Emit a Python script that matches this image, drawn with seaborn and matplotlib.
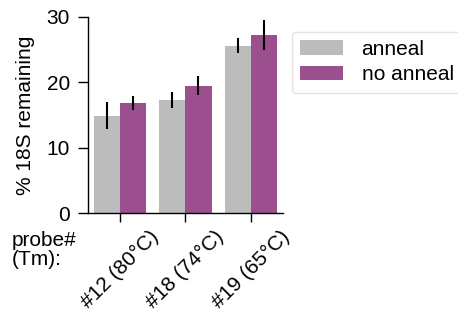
import pandas as pd
import matplotlib
matplotlib.use("Agg")
import matplotlib.pyplot as plt
import seaborn as sns

probes = ["#12 (80°C)", "#18 (74°C)", "#19 (65°C)"]
conditions = ["anneal", "no anneal"]
anneal_vals = [14.9, 17.3, 25.6]
anneal_err = [2.05, 1.15, 1.15]
noanneal_vals = [16.8, 19.45, 27.3]
noanneal_err = [1.1, 1.45, 2.3]
colors = ["#bcbcbc", "#9b4f8f"]

df = pd.DataFrame({
    "probe": probes * 2,
    "condition": ["anneal"] * 3 + ["no anneal"] * 3,
    "value": anneal_vals + noanneal_vals,
})
errs = [anneal_err, noanneal_err]

sns.set_style("ticks")
plt.rcParams["font.family"] = ["Liberation Sans", "DejaVu Sans"]
plt.rcParams["text.color"] = "black"
plt.rcParams["axes.labelcolor"] = "black"
plt.rcParams["xtick.color"] = "black"
plt.rcParams["ytick.color"] = "black"
fs = 15

fig = plt.figure(figsize=(4.58, 3.2), dpi=100)
ax = fig.add_axes([0.192, 0.334, 0.426, 0.613])

sns.barplot(data=df, x="probe", y="value", hue="condition", order=probes,
            hue_order=conditions, palette=colors, errorbar=None, width=0.8,
            saturation=1, linewidth=0, ax=ax)

for cont, e in zip(ax.containers, errs):
    xs = [b.get_x() + b.get_width() / 2 for b in cont]
    ys = [b.get_height() for b in cont]
    ax.errorbar(xs, ys, yerr=e, fmt="none", ecolor="black", elinewidth=1.5, capsize=0)

ax.set_ylim(0, 30)
ax.set_xlim(-0.5, 2.5)
ax.set_yticks([0, 10, 20, 30])
ax.set_ylabel("% 18S remaining", fontsize=fs, labelpad=8)
ax.set_xlabel("")
ax.tick_params(axis="y", labelsize=fs, length=7, width=1, pad=6)
ax.tick_params(axis="x", labelsize=fs, length=6.5, width=1)
plt.setp(ax.get_xticklabels(), rotation=45, ha="center")
for s in ["left", "bottom"]:
    ax.spines[s].set_color("black")
    ax.spines[s].set_linewidth(1)
sns.despine(ax=ax)
ax.spines["left"].set_bounds(0, 30)

ax.legend(loc="upper left", bbox_to_anchor=(1.046, 0.925), borderaxespad=0,
          fontsize=fs, handlelength=2.07, handleheight=0.72, handletextpad=0.87,
          labelspacing=0.3, frameon=True, fancybox=True,
          edgecolor="#dddddd", borderpad=0.4)

fig.text(0.026, 0.22, "probe#\n(Tm):", fontsize=fs, ha="left", va="center",
         linespacing=1.0)

fig.savefig("out.png", dpi=100)
